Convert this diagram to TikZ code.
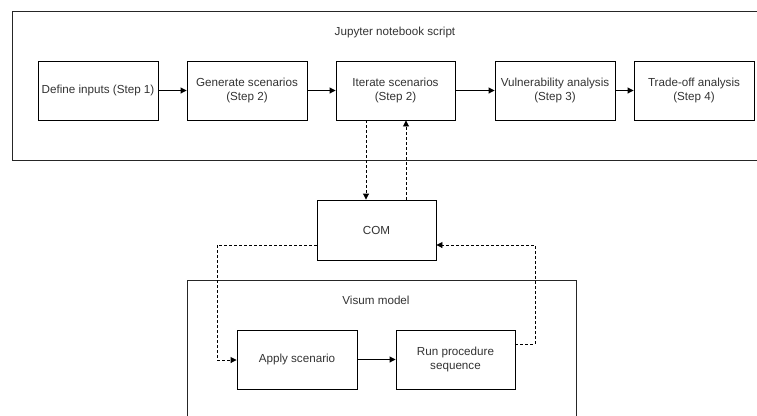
\documentclass[tikz,border=0pt]{standalone}
\usepackage{fontspec}
\setmainfont{Liberation Sans}
\usetikzlibrary{arrows.meta}
\definecolor{txt}{HTML}{333333}
\tikzset{
  box/.style={draw=black, line width=0.9bp, fill=white, text=txt, align=center, font=\fontsize{11.7}{13.5}\selectfont, inner sep=0pt},
  frame/.style={draw=black!85, line width=0.9bp},
  lbl/.style={text=txt, font=\fontsize{11.7}{13.5}\selectfont},
  flow/.style={draw=black, line width=0.9bp, -{Triangle[length=6bp,width=6bp]}},
  dflow/.style={flow, dash pattern=on 3bp off 2bp}
}
\begin{document}
\begin{tikzpicture}[x=1bp,y=-1bp]
\useasboundingbox (0,0) rectangle (757,415);
\begin{scope}
\clip (0,0) rectangle (757,415);
\draw[frame] (12,11) rectangle (770,160);
\draw[frame] (187,280) rectangle (576,430);
\end{scope}
\node[lbl] (jt) at (395,32) {Jupyter notebook script};
\node[lbl] (vt) at (376,300) {Visum model};
\node[box, minimum width=120bp, minimum height=59bp] (s1) at (98,90.5) {Define inputs (Step 1)};
\node[box, minimum width=120bp, minimum height=59bp] (s2) at (247,90.5) {Generate scenarios\\(Step 2)};
\node[box, minimum width=119bp, minimum height=59bp] (s3) at (395.5,90.5) {Iterate scenarios\\(Step 2)};
\node[box, minimum width=120bp, minimum height=59bp] (s4) at (555,90.5) {Vulnerability analysis\\(Step 3)};
\node[box, minimum width=120bp, minimum height=59bp] (s5) at (694,90.5) {Trade-off analysis\\(Step 4)};
\node[box, minimum width=119bp, minimum height=60bp] (com) at (376.5,230) {COM};
\node[box, minimum width=120bp, minimum height=59bp] (ap) at (297,359.5) {Apply scenario};
\node[box, minimum width=119bp, minimum height=59bp] (rp) at (455.5,359.5) {Run procedure\\sequence};
\draw[flow] (s1) -- (s2);
\draw[flow] (s2) -- (s3);
\draw[flow] (s3) -- (s4);
\draw[flow] (s4) -- (s5);
\draw[flow] (ap) -- (rp);
\draw[dflow] (s3.south -| 366,0) -- (com.north -| 366,0);
\draw[dflow] (com.north -| 406,0) -- (s3.south -| 406,0);
\coordinate (c1) at (217,245);
\coordinate (c2) at (217,360);
\coordinate (c3) at (535,344);
\coordinate (c4) at (535,245);
\draw[dflow] (com.west |- c1) -- (c1) -- (c2) -- (ap.west |- c2);
\draw[dflow] (rp.east |- c3) -- (c3) -- (c4) -- (com.east |- c4);
\end{tikzpicture}
\end{document}
